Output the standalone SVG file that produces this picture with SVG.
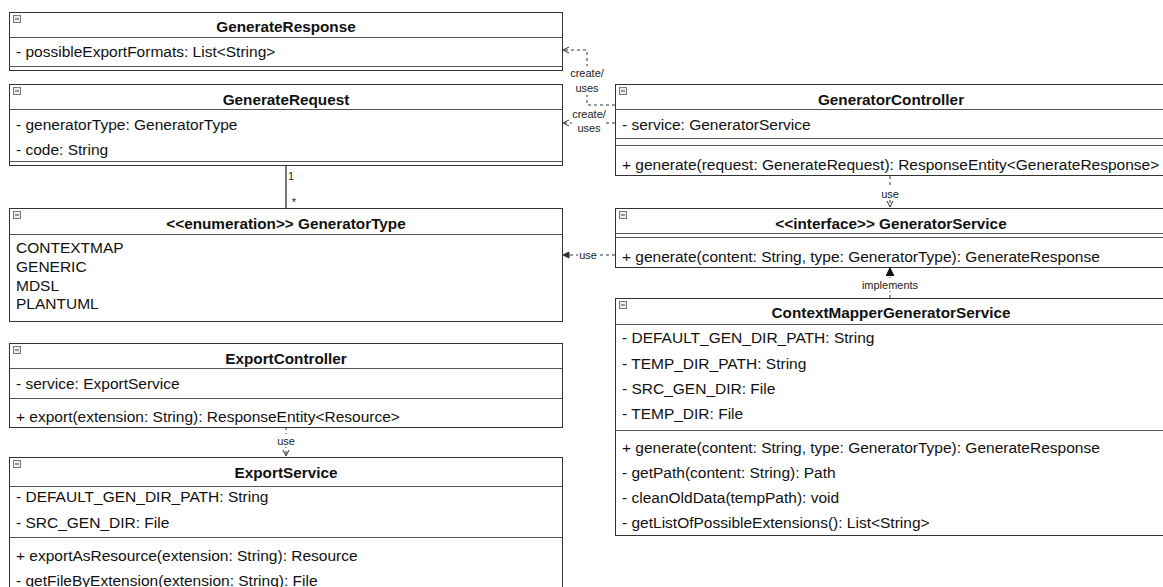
<svg xmlns="http://www.w3.org/2000/svg" width="1163" height="587" viewBox="0 0 1163 587">
  <style>
    .box { fill: #ffffff; stroke: #333333; stroke-width: 1; }
    .sep { stroke: #555555; stroke-width: 1; fill: none; }
    .t { font-family: "Liberation Sans", Arial, sans-serif; font-size: 15.5px; fill: #111111; }
    .title { font-family: "Liberation Sans", Arial, sans-serif; font-size: 15.3px; font-weight: bold; fill: #111111; text-anchor: middle; }
    .lbl { font-family: "Liberation Sans", Arial, sans-serif; font-size: 11px; fill: #222222; text-anchor: middle; }
    .edge { stroke: #333333; stroke-width: 1; fill: none; stroke-dasharray: 3 3; }
    .solid { stroke: #222222; stroke-width: 1.2; fill: none; }
    .lblbg { fill: #ffffff; }
    .icon rect { fill: #eeeeee; stroke: #777777; stroke-width: 1; }
    .icon line { stroke: #444444; stroke-width: 1; }
  </style>
  <defs>
    <marker id="open" markerWidth="8" markerHeight="8" refX="7" refY="4" orient="auto" markerUnits="userSpaceOnUse">
      <path d="M1,1 L7,4 L1,7" fill="none" stroke="#333333" stroke-width="1"/>
    </marker>
    <marker id="solidhead" markerWidth="8" markerHeight="8" refX="7" refY="4" orient="auto" markerUnits="userSpaceOnUse">
      <path d="M1,1 L7,4 L1,7 Z" fill="#333333" stroke="#333333" stroke-width="1"/>
    </marker>
    <marker id="tri" markerWidth="10" markerHeight="10" refX="8" refY="4" orient="auto" markerUnits="userSpaceOnUse">
      <path d="M0,0 L8,4 L0,8 Z" fill="#111111" stroke="#111111" stroke-width="1"/>
    </marker>
    <g id="collapse" class="icon">
      <rect x="0.5" y="0.5" width="7" height="7"/>
      <line x1="2" y1="4" x2="6" y2="4"/>
    </g>
  </defs>

  <rect width="1163" height="587" fill="#ffffff"/>

  <!-- connectors -->
  <g id="connectors">
    <!-- GeneratorController creates/uses GenerateResponse -->
    <path class="edge" d="M615,105 H587 V50 H563" marker-end="url(#open)"/>
    <rect class="lblbg" x="570" y="66" width="34" height="29"/>
    <text class="lbl" x="587" y="77">create/</text>
    <text class="lbl" x="587" y="92">uses</text>

    <!-- GeneratorController creates/uses GenerateRequest -->
    <path class="edge" d="M615,123 H563" marker-end="url(#open)"/>
    <rect class="lblbg" x="572" y="107" width="34" height="28"/>
    <text class="lbl" x="589" y="118">create/</text>
    <text class="lbl" x="589" y="132">uses</text>

    <!-- GenerateRequest to GeneratorType association -->
    <path class="solid" d="M286,166 V208"/>
    <text class="lbl" x="291" y="180">1</text>
    <text class="lbl" x="294" y="206">*</text>

    <!-- GeneratorController uses GeneratorService -->
    <path class="edge" d="M890,176 V207" marker-end="url(#open)"/>
    <rect class="lblbg" x="880" y="187" width="20" height="12"/>
    <text class="lbl" x="890" y="198">use</text>

    <!-- GeneratorService uses GeneratorType -->
    <path class="edge" d="M615,255 H563" marker-end="url(#solidhead)"/>
    <rect class="lblbg" x="578" y="248" width="20" height="13"/>
    <text class="lbl" x="588" y="259">use</text>

    <!-- ContextMapperGeneratorService implements GeneratorService -->
    <path class="edge" d="M890,298 V268" marker-end="url(#tri)"/>
    <rect class="lblbg" x="861" y="278" width="58" height="13"/>
    <text class="lbl" x="890" y="289">implements</text>

    <!-- ExportController uses ExportService -->
    <path class="edge" d="M286,427 V456" marker-end="url(#open)"/>
    <rect class="lblbg" x="276" y="434" width="20" height="13"/>
    <text class="lbl" x="286" y="445">use</text>
  </g>

  <!-- GenerateResponse -->
  <g id="GenerateResponse">
    <rect class="box" x="9.5" y="12.5" width="553" height="58"/>
    <line class="sep" x1="9.5" y1="37.5" x2="562.5" y2="37.5"/>
    <line class="sep" x1="9.5" y1="66.5" x2="562.5" y2="66.5"/>
    <use href="#collapse" x="13" y="15"/>
    <text class="title" x="286" y="32">GenerateResponse</text>
    <text class="t" x="16" y="57">- possibleExportFormats: List&lt;String&gt;</text>
  </g>

  <!-- GenerateRequest -->
  <g id="GenerateRequest">
    <rect class="box" x="9.5" y="84.5" width="553" height="81"/>
    <line class="sep" x1="9.5" y1="109.5" x2="562.5" y2="109.5"/>
    <line class="sep" x1="9.5" y1="161.5" x2="562.5" y2="161.5"/>
    <use href="#collapse" x="13" y="87"/>
    <text class="title" x="286" y="105">GenerateRequest</text>
    <text class="t" x="16" y="130">- generatorType: GeneratorType</text>
    <text class="t" x="16" y="155">- code: String</text>
  </g>

  <!-- GeneratorType -->
  <g id="GeneratorType">
    <rect class="box" x="9.5" y="208.5" width="553" height="113"/>
    <line class="sep" x1="9.5" y1="234.5" x2="562.5" y2="234.5"/>
    <use href="#collapse" x="13" y="211"/>
    <text class="title" x="286" y="229">&lt;&lt;enumeration&gt;&gt; GeneratorType</text>
    <text class="t" x="16" y="253">CONTEXTMAP</text>
    <text class="t" x="16" y="272">GENERIC</text>
    <text class="t" x="16" y="291">MDSL</text>
    <text class="t" x="16" y="309">PLANTUML</text>
  </g>

  <!-- ExportController -->
  <g id="ExportController">
    <rect class="box" x="9.5" y="343.5" width="553" height="84"/>
    <line class="sep" x1="9.5" y1="368.5" x2="562.5" y2="368.5"/>
    <line class="sep" x1="9.5" y1="398.5" x2="562.5" y2="398.5"/>
    <use href="#collapse" x="13" y="346"/>
    <text class="title" x="286" y="364">ExportController</text>
    <text class="t" x="16" y="389">- service: ExportService</text>
    <text class="t" x="16" y="422">+ export(extension: String): ResponseEntity&lt;Resource&gt;</text>
  </g>

  <!-- ExportService -->
  <g id="ExportService">
    <rect class="box" x="9.5" y="457.5" width="553" height="150"/>
    <line class="sep" x1="9.5" y1="486.5" x2="562.5" y2="486.5"/>
    <line class="sep" x1="9.5" y1="537.5" x2="562.5" y2="537.5"/>
    <use href="#collapse" x="13" y="460"/>
    <text class="title" x="286" y="478">ExportService</text>
    <text class="t" x="16" y="502">- DEFAULT_GEN_DIR_PATH: String</text>
    <text class="t" x="16" y="528">- SRC_GEN_DIR: File</text>
    <text class="t" x="16" y="561">+ exportAsResource(extension: String): Resource</text>
    <text class="t" x="16" y="586">- getFileByExtension(extension: String): File</text>
  </g>

  <!-- GeneratorController -->
  <g id="GeneratorController">
    <rect class="box" x="615.5" y="84.5" width="553" height="91"/>
    <line class="sep" x1="615.5" y1="109.5" x2="1168" y2="109.5"/>
    <line class="sep" x1="615.5" y1="138.5" x2="1168" y2="138.5"/>
    <line class="sep" x1="615.5" y1="145.5" x2="1168" y2="145.5"/>
    <use href="#collapse" x="619" y="87"/>
    <text class="title" x="891" y="105">GeneratorController</text>
    <text class="t" x="622" y="130">- service: GeneratorService</text>
    <text class="t" x="622" y="170">+ generate(request: GenerateRequest): ResponseEntity&lt;GenerateResponse&gt;</text>
  </g>

  <!-- GeneratorService -->
  <g id="GeneratorService">
    <rect class="box" x="615.5" y="208.5" width="553" height="59"/>
    <line class="sep" x1="615.5" y1="233.5" x2="1168" y2="233.5"/>
    <line class="sep" x1="615.5" y1="237.5" x2="1168" y2="237.5"/>
    <use href="#collapse" x="619" y="211"/>
    <text class="title" x="891" y="229">&lt;&lt;interface&gt;&gt; GeneratorService</text>
    <text class="t" x="622" y="262">+ generate(content: String, type: GeneratorType): GenerateResponse</text>
  </g>

  <!-- ContextMapperGeneratorService -->
  <g id="ContextMapperGeneratorService">
    <rect class="box" x="615.5" y="298.5" width="553" height="237"/>
    <line class="sep" x1="615.5" y1="324.5" x2="1168" y2="324.5"/>
    <line class="sep" x1="615.5" y1="430.5" x2="1168" y2="430.5"/>
    <use href="#collapse" x="619" y="301"/>
    <text class="title" x="891" y="318">ContextMapperGeneratorService</text>
    <text class="t" x="622" y="343">- DEFAULT_GEN_DIR_PATH: String</text>
    <text class="t" x="622" y="369">- TEMP_DIR_PATH: String</text>
    <text class="t" x="622" y="394">- SRC_GEN_DIR: File</text>
    <text class="t" x="622" y="419">- TEMP_DIR: File</text>
    <text class="t" x="622" y="453">+ generate(content: String, type: GeneratorType): GenerateResponse</text>
    <text class="t" x="622" y="478">- getPath(content: String): Path</text>
    <text class="t" x="622" y="503">- cleanOldData(tempPath): void</text>
    <text class="t" x="622" y="528">- getListOfPossibleExtensions(): List&lt;String&gt;</text>
  </g>
</svg>
